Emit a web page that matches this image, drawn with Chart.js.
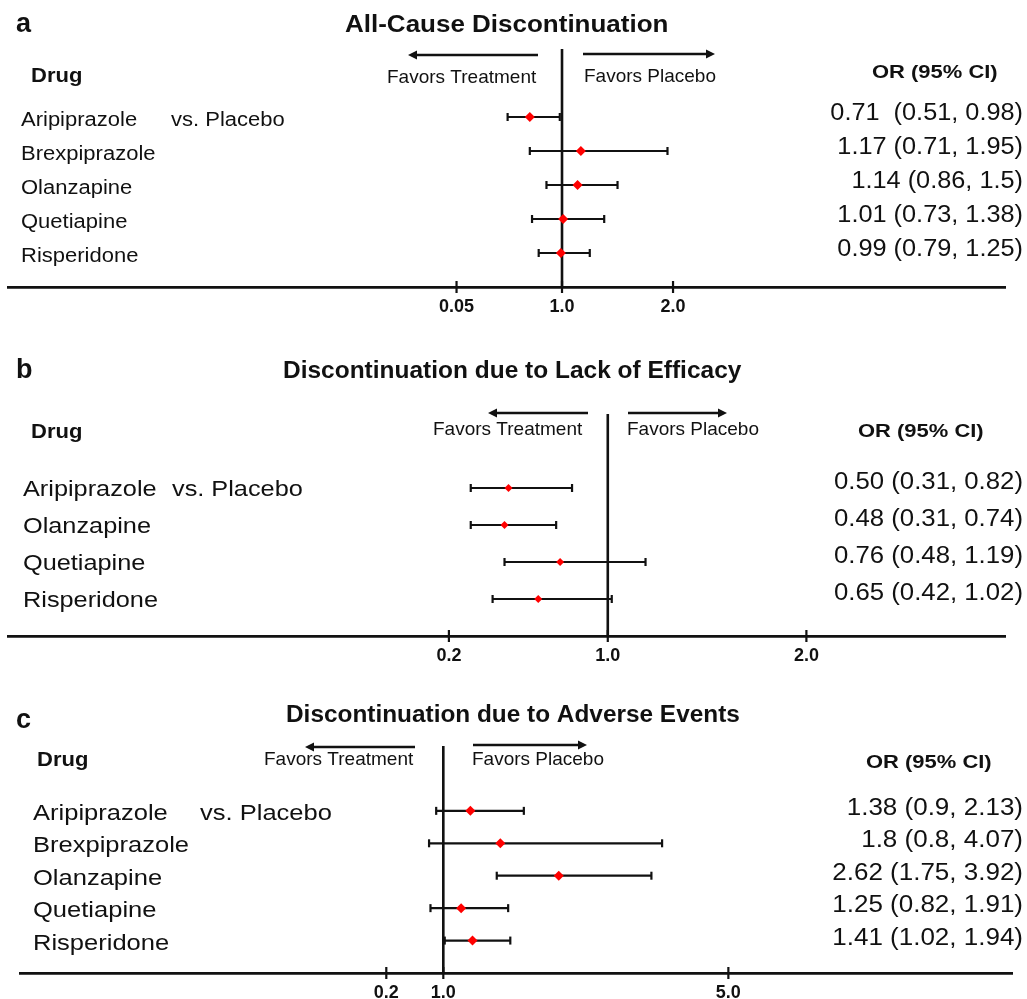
<!DOCTYPE html>
<html>
<head>
<meta charset="utf-8">
<script src="https://cdn.jsdelivr.net/npm/chart.js@4.4.1/dist/chart.umd.min.js"></script>
<style>
  html, body { margin: 0; padding: 0; background: #fff; }
  body { width: 1027px; height: 999px; position: relative; overflow: hidden; }
  canvas { position: absolute; left: 0; top: 0; }
</style>
</head>
<body>
<canvas id="cA" width="1027" height="1040"></canvas>
<canvas id="cB" width="1027" height="1040"></canvas>
<canvas id="cC" width="1027" height="1040"></canvas>
<script>
// ---------------- DATA ----------------
// Panel a: All-Cause Discontinuation
const drugsA = ['Aripiprazole', 'Brexpiprazole', 'Olanzapine', 'Quetiapine', 'Risperidone'];
const orA    = [0.71, 1.17, 1.14, 1.01, 0.99];
const loA    = [0.51, 0.71, 0.86, 0.73, 0.79];
const hiA    = [0.98, 1.95, 1.50, 1.38, 1.25];
const ciTextA = ['0.71  (0.51, 0.98)', '1.17 (0.71, 1.95)', '1.14 (0.86, 1.5)', '1.01 (0.73, 1.38)', '0.99 (0.79, 1.25)'];
const ticksA = [0.05, 1.0, 2.0];
const tickLabelsA = ['0.05', '1.0', '2.0'];

// Panel b: Discontinuation due to Lack of Efficacy
const drugsB = ['Aripiprazole', 'Olanzapine', 'Quetiapine', 'Risperidone'];
const orB    = [0.50, 0.48, 0.76, 0.65];
const loB    = [0.31, 0.31, 0.48, 0.42];
const hiB    = [0.82, 0.74, 1.19, 1.02];
const ciTextB = ['0.50 (0.31, 0.82)', '0.48 (0.31, 0.74)', '0.76 (0.48, 1.19)', '0.65 (0.42, 1.02)'];
const ticksB = [0.2, 1.0, 2.0];
const tickLabelsB = ['0.2', '1.0', '2.0'];

// Panel c: Discontinuation due to Adverse Events
const drugsC = ['Aripiprazole', 'Brexpiprazole', 'Olanzapine', 'Quetiapine', 'Risperidone'];
const orC    = [1.38, 1.80, 2.62, 1.25, 1.41];
const loC    = [0.90, 0.80, 1.75, 0.82, 1.02];
const hiC    = [2.13, 4.07, 3.92, 1.91, 1.94];
const ciTextC = ['1.38 (0.9, 2.13)', '1.8 (0.8, 4.07)', '2.62 (1.75, 3.92)', '1.25 (0.82, 1.91)', '1.41 (1.02, 1.94)'];
const ticksC = [0.2, 1.0, 5.0];
const tickLabelsC = ['0.2', '1.0', '5.0'];

const titles = ['All-Cause Discontinuation', 'Discontinuation due to Lack of Efficacy', 'Discontinuation due to Adverse Events'];
const panelLetters = ['a', 'b', 'c'];
const comparator = 'vs. Placebo';

// ---------------- STYLE / LAYOUT ----------------
const FONT = '"Liberation Sans", Arial, Helvetica, sans-serif';
const INK = '#111';
const CANVAS_H = 1040;
const AXIS_H = 40;

function txt(ctx, s, x, y, size, bold, align, sx) {
  ctx.save();
  ctx.font = (bold ? 'bold ' : '') + size + 'px ' + FONT;
  ctx.fillStyle = INK;
  ctx.textBaseline = 'alphabetic';
  ctx.textAlign = 'left';
  const w = ctx.measureText(s).width * sx;
  const x0 = align === 'right' ? x - w : (align === 'center' ? x - w / 2 : x);
  ctx.translate(x0, y);
  ctx.scale(sx, 1);
  ctx.fillText(s, 0, 0);
  ctx.restore();
}

function arrow(ctx, xTail, xTip, y) {
  const dir = xTip > xTail ? 1 : -1;
  const hl = 9, hw = 4.5;
  ctx.save();
  ctx.strokeStyle = INK; ctx.fillStyle = INK; ctx.lineWidth = 2.5;
  ctx.beginPath(); ctx.moveTo(xTail, y); ctx.lineTo(xTip - dir * hl, y); ctx.stroke();
  ctx.beginPath(); ctx.moveTo(xTip, y); ctx.lineTo(xTip - dir * hl, y - hw); ctx.lineTo(xTip - dir * hl, y + hw); ctx.closePath(); ctx.fill();
  ctx.restore();
}

const panels = [
  {
    id: 'cA', letter: panelLetters[0], title: titles[0],
    names: drugsA, or: orA, lo: loA, hi: hiA, ci: ciTextA, ticks: ticksA, tickLabels: tickLabelsA,
    xMin: -3.99, xMax: 4.99,
    area: { left: 8, right: 1005, top: 49, bottom: 287 },
    dot: 5,
    letterPos: [16, 32], titlePos: [345, 32, 23, 1.13],
    arrowL: [538, 408, 55], arrowR: [583, 715, 54],
    favT: [387, 83], favP: [584, 82], favSize: 19,
    drugPos: [31, 82], orHeadPos: [872, 78],
    nameX: 21, nameSize: 20, nameSx: 1.1, nameDy: 9, vsX: 171,
    ciSize: 23, ciSx: 1.1, ciDy: 3
  },
  {
    id: 'cB', letter: panelLetters[1], title: titles[1],
    names: drugsB, or: orB, lo: loB, hi: hiB, ci: ciTextB, ticks: ticksB, tickLabels: tickLabelsB,
    xMin: -2.02, xMax: 3.0,
    area: { left: 8, right: 1005, top: 414, bottom: 636 },
    dot: 4,
    letterPos: [16, 378], titlePos: [283, 378, 24, 1.02],
    arrowL: [588, 488, 413], arrowR: [628, 727, 413],
    favT: [433, 435], favP: [627, 435], favSize: 19,
    drugPos: [31, 438], orHeadPos: [858, 437],
    nameX: 23, nameSize: 22, nameSx: 1.15, nameDy: 8, vsX: 172,
    ciSize: 23, ciSx: 1.12, ciDy: 1
  },
  {
    id: 'cC', letter: panelLetters[2], title: titles[2],
    names: drugsC, or: orC, lo: loC, hi: hiC, ci: ciTextC, ticks: ticksC, tickLabels: tickLabelsC,
    xMin: -4.94, xMax: 8.98,
    area: { left: 20, right: 1012, top: 746, bottom: 973 },
    dot: 5,
    letterPos: [16, 728], titlePos: [286, 722, 23, 1.06],
    arrowL: [415, 305, 747], arrowR: [473, 587, 745],
    favT: [264, 765], favP: [472, 765], favSize: 19,
    drugPos: [37, 766], orHeadPos: [866, 768],
    nameX: 33, nameSize: 22, nameSx: 1.16, nameDy: 9, vsX: 200,
    ciSize: 23, ciSx: 1.13, ciDy: 4
  }
];

function build(P) {
  const n = P.names.length;
  const datasets = [];
  // diamonds (index 0 -> drawn on top)
  datasets.push({
    label: 'OR', data: P.or.map((v, i) => ({ x: v, y: i })),
    pointStyle: 'rectRot', pointRadius: P.dot, pointBackgroundColor: '#ff0000',
    pointBorderColor: '#ff0000', pointBorderWidth: 0, showLine: false, clip: false
  });
  // confidence intervals with end caps
  P.lo.forEach((lo, i) => {
    datasets.push({
      label: 'CI ' + P.names[i], data: [{ x: lo, y: i }, { x: P.hi[i], y: i }],
      showLine: true, borderColor: INK, borderWidth: 2.2,
      pointStyle: 'line', pointRotation: 90, pointRadius: 4,
      pointBorderWidth: 2.2, pointBorderColor: INK, pointBackgroundColor: INK, clip: false
    });
  });
  // reference line at OR = 1
  datasets.push({
    label: 'ref', data: [{ x: 1, y: -2 }, { x: 1, y: n }],
    showLine: true, borderColor: INK, borderWidth: 2.6, pointRadius: 0, clip: false
  });

  const textPlugin = {
    id: 'forestText',
    afterDraw(chart) {
      const ctx = chart.ctx;
      const ys = chart.scales.y, xs = chart.scales.x;
      txt(ctx, P.letter, P.letterPos[0], P.letterPos[1], 27, true, 'left', 1.0);
      txt(ctx, P.title, P.titlePos[0], P.titlePos[1], P.titlePos[2], true, 'left', P.titlePos[3]);
      arrow(ctx, P.arrowL[0], P.arrowL[1], P.arrowL[2]);
      arrow(ctx, P.arrowR[0], P.arrowR[1], P.arrowR[2]);
      txt(ctx, 'Favors Treatment', P.favT[0], P.favT[1], P.favSize, false, 'left', 1.0);
      txt(ctx, 'Favors Placebo', P.favP[0], P.favP[1], P.favSize, false, 'left', 1.0);
      txt(ctx, 'Drug', P.drugPos[0], P.drugPos[1], 20, true, 'left', 1.1);
      txt(ctx, 'OR (95% CI)', P.orHeadPos[0], P.orHeadPos[1], 18, true, 'left', 1.22);
      P.names.forEach((nm, i) => {
        const py = ys.getPixelForValue(i);
        txt(ctx, nm, P.nameX, py + P.nameDy, P.nameSize, false, 'left', P.nameSx);
        if (i === 0) txt(ctx, comparator, P.vsX, py + P.nameDy, P.nameSize, false, 'left', P.nameSx);
        txt(ctx, P.ci[i], 1023, py + P.ciDy, P.ciSize, false, 'right', P.ciSx);
      });
      // tick marks crossing the axis
      const ay = chart.chartArea.bottom;
      ctx.save();
      ctx.strokeStyle = INK; ctx.lineWidth = 2.2;
      P.ticks.forEach(v => {
        const px = xs.getPixelForValue(v);
        ctx.beginPath(); ctx.moveTo(px, ay - 6); ctx.lineTo(px, ay + 6); ctx.stroke();
      });
      ctx.restore();
    }
  };

  new Chart(document.getElementById(P.id), {
    type: 'scatter',
    data: { datasets },
    options: {
      responsive: false,
      animation: false,
      events: [],
      devicePixelRatio: 1,
      layout: { padding: {
        left: P.area.left, right: 1027 - P.area.right,
        top: P.area.top, bottom: CANVAS_H - P.area.bottom - AXIS_H
      } },
      plugins: { legend: { display: false }, tooltip: { enabled: false }, title: { display: false } },
      scales: {
        x: {
          type: 'linear', min: P.xMin, max: P.xMax,
          afterBuildTicks: s => { s.ticks = P.ticks.map(v => ({ value: v })); },
          afterFit: s => { s.height = AXIS_H; },
          grid: { drawOnChartArea: false, drawTicks: false },
          border: { display: true, color: INK, width: 2.8 },
          ticks: {
            autoSkip: false, maxRotation: 0, minRotation: 0, padding: 9, color: INK,
            font: { family: FONT, size: 18, weight: 'bold' },
            callback: (v, i) => P.tickLabels[i]
          }
        },
        y: { type: 'linear', display: false, reverse: true, min: -2, max: n }
      }
    },
    plugins: [textPlugin]
  });
}

panels.forEach(build);
</script>
</body>
</html>
